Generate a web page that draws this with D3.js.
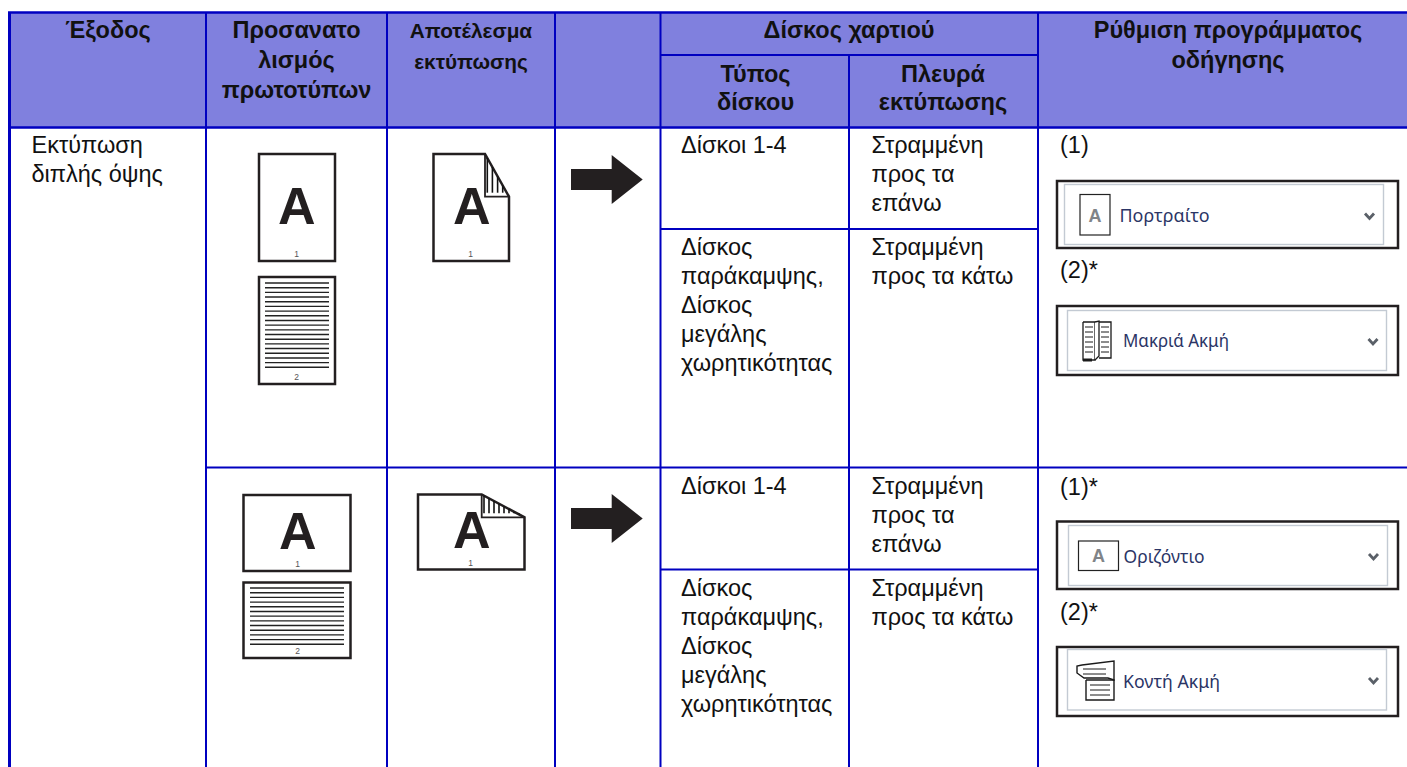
<!DOCTYPE html>
<meta charset="utf-8">
<style>
  body { margin: 0; background: #fff; }
  text { font-family: "Liberation Sans", Arial, sans-serif; }
</style>
<body>
<script src="https://cdnjs.cloudflare.com/ajax/libs/d3/7.8.5/d3.min.js"></script>
<script>
// table content
var columns = ["output", "orient", "result", "arrow", "trayType", "traySide", "driver", "end"];
var headerOutput = ["Έξοδος"];
var headerOrient = ["Προσανατο", "λισμός", "πρωτοτύπων"];
var headerResult = ["Αποτέλεσμα", "εκτύπωσης"];
var headerTray = ["Δίσκος χαρτιού"];
var headerType = ["Τύπος", "δίσκου"];
var headerSide = ["Πλευρά", "εκτύπωσης"];
var headerDriver = ["Ρύθμιση προγράμματος", "οδήγησης"];
var outputLabel = ["Εκτύπωση", "διπλής όψης"];
var trayFirst = ["Δίσκοι 1-4"];
var trayOther = ["Δίσκος", "παράκαμψης,", "Δίσκος", "μεγάλης", "χωρητικότητας"];
var sideUp = ["Στραμμένη", "προς τα", "επάνω"];
var sideDown = ["Στραμμένη", "προς τα κάτω"];
var dropdownLabels = ["Πορτραίτο", "Μακριά Ακμή", "Οριζόντιο", "Κοντή Ακμή"];
var settingLabels = ["(1)", "(2)*", "(1)*", "(2)*"];

var width = 1407, height = 767;
var blue = "#0000c0", headFill = "#8080de", ink = "#231f20";

var x = d3.scaleOrdinal(columns, [9.5, 206, 387, 555, 660.5, 849, 1038, 1407]);
var y = d3.scaleOrdinal(["top", "sub", "head", "r1b", "r2", "r2b", "bottom"],
                        [12.5, 55, 127.5, 229, 467.5, 569.5, 767]);

var svg = d3.select("body").append("svg")
  .attr("width", width).attr("height", height)
  .style("display", "block");

svg.append("rect")
  .attr("x", x("output")).attr("y", y("top"))
  .attr("width", width - x("output")).attr("height", y("head") - y("top"))
  .attr("fill", headFill);

function hline(x1, x2, yy, w) {
  svg.append("line").attr("x1", x1).attr("x2", x2).attr("y1", yy).attr("y2", yy)
    .attr("stroke", blue).attr("stroke-width", w || 2);
}
function vline(xx, y1, y2, w) {
  svg.append("line").attr("x1", xx).attr("x2", xx).attr("y1", y1).attr("y2", y2)
    .attr("stroke", blue).attr("stroke-width", w || 2);
}

// grid
hline(x("output") - 1.5, width, y("top"), 2.6);
hline(x("output") - 1.5, width, y("head"), 2.6);
hline(x("trayType"), x("driver"), y("sub"));
hline(x("orient"), width, y("r2"));
hline(x("trayType"), x("driver"), y("r1b"));
hline(x("trayType"), x("driver"), y("r2b"));
vline(x("output"), y("top"), y("bottom"), 3);
vline(x("orient"), y("top"), y("bottom"));
vline(x("result"), y("top"), y("bottom"));
vline(x("arrow"), y("top"), y("bottom"));
vline(x("trayType"), y("top"), y("bottom"));
vline(x("traySide"), y("sub"), y("bottom"));
vline(x("driver"), y("top"), y("bottom"));

function block(lines, xx, firstY, opt) {
  opt = opt || {};
  svg.append("g").selectAll("text").data(lines).enter().append("text")
    .attr("x", xx)
    .attr("y", function (d, i) { return firstY + i * (opt.lead || 29); })
    .attr("text-anchor", opt.anchor || "start")
    .attr("font-size", opt.size || 23.5)
    .attr("font-weight", opt.bold ? "bold" : "normal")
    .attr("fill", opt.color || "#111")
    .text(function (d) { return d; });
}

// header
var hd = { anchor: "middle", bold: true, size: 23.5, lead: 30 };
var hd2 = { anchor: "middle", bold: true, size: 23.5, lead: 28.5 };
block(headerOutput, 108, 38, hd);
block(headerOrient, 296.5, 38, hd);
block(headerResult, 471, 38, { anchor: "middle", bold: true, size: 20.8, lead: 31 });
block(headerTray, 849, 38, hd);
block(headerType, 755.5, 81.5, hd2);
block(headerSide, 943, 81.5, hd2);
block(headerDriver, 1228, 38, hd);

// body text
block(outputLabel, 31.5, 153, {});
block(trayFirst, 681, 153, {});
block(sideUp, 871.5, 153, {});
block(trayOther, 681, 255, {});
block(sideDown, 871.5, 255, {});
block(trayFirst, 681, 494, {});
block(sideUp, 871.5, 494, {});
block(trayOther, 681, 596, {});
block(sideDown, 871.5, 596, {});
block([settingLabels[0]], 1060, 153, {});
block([settingLabels[1]], 1060, 278, {});
block([settingLabels[2]], 1060, 495, {});
block([settingLabels[3]], 1060, 620, {});

// page pictograms
function pageBox(g, x0, y0, x1, y1) {
  g.append("rect").attr("x", x0).attr("y", y0).attr("width", x1 - x0).attr("height", y1 - y0)
    .attr("fill", "#fff").attr("stroke", ink).attr("stroke-width", 2.5);
}
function bigA(g, cx, base) {
  g.append("text").attr("x", cx).attr("y", base).attr("text-anchor", "middle")
    .attr("font-size", 52).attr("font-weight", "bold").attr("fill", ink).text("A");
}
function smallNum(g, cx, base, t) {
  g.append("text").attr("x", cx).attr("y", base).attr("text-anchor", "middle")
    .attr("font-size", 8.5).attr("fill", "#555").text(t);
}
function ruled(g, x0, x1, y0, y1, n) {
  var s = d3.scaleLinear().domain([0, n - 1]).range([y0, y1]);
  g.append("g").selectAll("line").data(d3.range(n)).enter().append("line")
    .attr("x1", x0).attr("x2", x1)
    .attr("y1", function (d) { return s(d); }).attr("y2", function (d) { return s(d); })
    .attr("stroke", "#222").attr("stroke-width", 1.4);
}
function foldedPage(g, x0, y0, x1, y1, fx, fy, hatch) {
  // outline with the cut corner, then the folded flap
  g.append("path")
    .attr("d", d3.line()([[x0, y0], [fx, y0], [x1, fy], [x1, y1], [x0, y1]]) + "Z")
    .attr("fill", "#fff").attr("stroke", ink).attr("stroke-width", 2.5);
  g.append("path")
    .attr("d", d3.line()([[fx, y0], [fx, fy], [x1, fy]]))
    .attr("fill", "none").attr("stroke", ink).attr("stroke-width", 1.8);
  var t = d3.scaleLinear().domain([fx, x1]).range([y0, fy]);
  g.append("g").selectAll("line").data(hatch).enter().append("line")
    .attr("x1", function (d) { return d; }).attr("x2", function (d) { return d; })
    .attr("y1", function (d) { return t(d); }).attr("y2", fy - 4)
    .attr("stroke", "#111").attr("stroke-width", 1.6);
}

var pics = svg.append("g");
pageBox(pics, 259, 154, 335, 261);
bigA(pics, 296.7, 223.5);
smallNum(pics, 296.7, 256.5, "1");
pageBox(pics, 259, 277, 335, 384);
ruled(pics, 265, 329, 283, 367.3, 19);
smallNum(pics, 296.7, 380, "2");

foldedPage(pics, 433.5, 154, 509, 261, 485, 196.7, [487.3, 492.4, 497.6, 502.7]);
bigA(pics, 471.7, 223.5);
smallNum(pics, 470.7, 256.5, "1");

pageBox(pics, 243.5, 495, 350.5, 571);
bigA(pics, 297.7, 548.5);
smallNum(pics, 297.7, 567, "1");
pageBox(pics, 243.5, 582.5, 350.5, 658);
ruled(pics, 250, 344, 588, 644.3, 13);
smallNum(pics, 297.7, 654, "2");

foldedPage(pics, 418, 494.5, 524.5, 569.5, 481.7, 517.3, d3.range(8).map(function (i) { return 484 + i * 5; }));
bigA(pics, 471.7, 547.5);
smallNum(pics, 470.7, 566, "1");

// arrows
function arrow(cy) {
  pics.append("path")
    .attr("d", d3.line()([[571, cy - 10.5], [611.7, cy - 10.5], [611.7, cy - 24.5], [642.7, cy],
                          [611.7, cy + 24.5], [611.7, cy + 10.5], [571, cy + 10.5]]) + "Z")
    .attr("fill", ink);
}
arrow(179.5);
arrow(518.5);

// driver dropdowns
function dropdown(o) {
  var g = svg.append("g");
  g.append("rect").attr("x", 1057).attr("y", o.top).attr("width", 341).attr("height", o.h)
    .attr("fill", "#fff").attr("stroke", ink).attr("stroke-width", 2.5);
  g.append("rect").attr("x", o.inX).attr("y", o.inY).attr("width", 319).attr("height", o.inH)
    .attr("fill", "#fff").attr("stroke", "#c3cad3").attr("stroke-width", 1.4);
  g.append("text").attr("x", o.tx).attr("y", o.ty)
    .style("font-family", "'Noto Sans'")
    .attr("font-size", 17.5).attr("fill", "#2b3566")
    .attr("textLength", o.tw).attr("lengthAdjust", "spacingAndGlyphs")
    .text(o.label);
  g.append("path")
    .attr("d", d3.line()([[o.cx - 4.5, o.cy - 2.5], [o.cx, o.cy + 2.5], [o.cx + 4.5, o.cy - 2.5]]))
    .attr("fill", "none").attr("stroke", "#5a6068").attr("stroke-width", 2.8);
  return g;
}
function letterIcon(g, x0, y0, x1, y1, base) {
  g.append("rect").attr("x", x0).attr("y", y0).attr("width", x1 - x0).attr("height", y1 - y0)
    .attr("fill", "#fff").attr("stroke", "#222").attr("stroke-width", 1.2);
  g.append("text").attr("x", (x0 + x1) / 2).attr("y", base).attr("text-anchor", "middle")
    .attr("font-size", 18).attr("font-weight", "bold").attr("fill", "#808488").text("A");
}
function stroked(g, pts, w, fill) {
  g.append("path").attr("d", d3.line()(pts)).attr("fill", fill || "none")
    .attr("stroke", "#1a1a1a").attr("stroke-width", w || 1);
}

var d1 = dropdown({ top: 181, h: 67, inX: 1064.5, inY: 184.5, inH: 60, tx: 1119.5, ty: 221.5, tw: 90, cx: 1369.5, cy: 216, label: dropdownLabels[0] });
letterIcon(d1, 1080, 194.5, 1110, 235, 221.7);

var d2 = dropdown({ top: 306, h: 69, inX: 1067.5, inY: 310.5, inH: 60, tx: 1123, ty: 346.5, tw: 106, cx: 1373, cy: 341.5, label: dropdownLabels[1] });
// book opened on the long edge
stroked(d2, [[1083, 322], [1095, 322], [1095, 360], [1083, 360], [1083, 322]], 1.3, "#fff");
stroked(d2, [[1099, 322], [1111, 322], [1111, 358], [1099, 358]], 1.3);
stroked(d2, [[1095, 322], [1099, 321], [1099, 356], [1095, 360]], 1.3, "#fff");
[327, 332, 337, 342, 347, 352].forEach(function (v) {
  stroked(d2, [[1085, v], [1093, v]], 1);
  stroked(d2, [[1101, v], [1109, v]], 1);
});
stroked(d2, [[1083, 360], [1092, 360]], 3);

var d3box = dropdown({ top: 521.5, h: 67.5, inX: 1068.5, inY: 525.5, inH: 60, tx: 1123.5, ty: 563, tw: 81, cx: 1373.5, cy: 556.5, label: dropdownLabels[2] });
letterIcon(d3box, 1078.5, 541, 1118.5, 570.5, 562.3);

var d4 = dropdown({ top: 647, h: 69, inX: 1067.5, inY: 649.5, inH: 60.5, tx: 1123, ty: 688, tw: 97, cx: 1373.5, cy: 680.5, label: dropdownLabels[3] });
// sheets flipped on the short edge
stroked(d4, [[1086, 680], [1114, 680], [1114, 700], [1086, 700], [1086, 680]], 1.4, "#fff");
stroked(d4, [[1082, 665], [1114, 661], [1114, 680], [1108, 678], [1084, 678], [1077, 673], [1077, 666], [1082, 665]], 1.4, "#fff");
[669, 674].forEach(function (v) { stroked(d4, [[1083, v], [1106, v]], 1); });
[685, 690, 695].forEach(function (v) { stroked(d4, [[1090, v], [1110, v]], 1); });
</script>
</body>
